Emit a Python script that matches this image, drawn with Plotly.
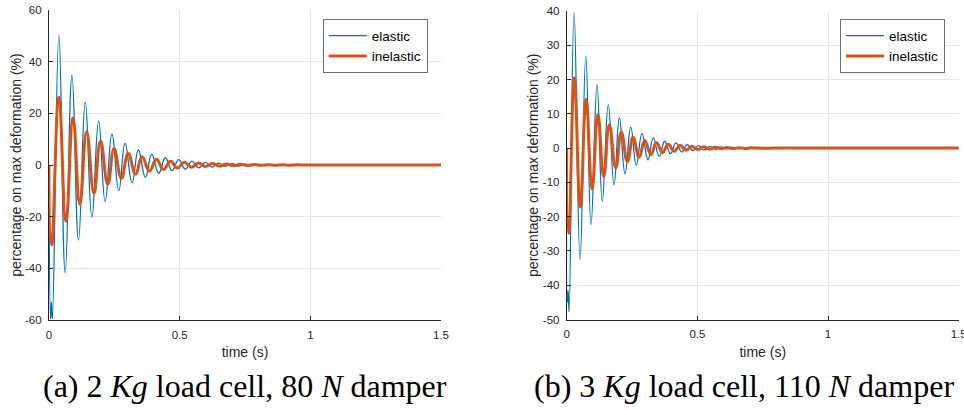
import plotly.graph_objects as go

# ---------------- data (successive extrema) ----------------
# (a) 2 Kg load cell, 80 N damper
t_a_elastic = [0, 0.006, 0.009, 0.013, 0.038, 0.062, 0.088, 0.113, 0.139, 0.164, 0.190, 0.215,
               0.241, 0.267, 0.291, 0.318, 0.342, 0.369, 0.393, 0.420, 0.445, 0.471, 0.496,
               0.522, 0.547, 0.573, 0.598, 0.624, 0.649, 0.675, 0.700, 0.726, 0.751, 0.777,
               0.802, 0.828, 0.853, 0.879, 0.904, 0.930, 0.955, 0.980, 1.005, 1.03, 1.1,
               1.2, 1.3, 1.4, 1.5]
v_a_elastic = [0, -59.5, -53, -59.5, 50.3, -41.7, 34.8, -29.0, 24.3, -20.2, 17.0, -14.2,
               12.0, -9.9, 8.4, -6.8, 5.8, -4.8, 4.1, -3.2, 2.8, -2.2, 2.1,
               -1.6, 1.5, -1.1, 1.0, -0.8, 0.7, -0.55, 0.5, -0.4, 0.35, -0.28,
               0.24, -0.2, 0.17, -0.14, 0.12, -0.1, 0.08, -0.06, 0.05, 0, 0,
               0, 0, 0, 0]
t_a_inelastic = [0, 0.005, 0.007, 0.011, 0.038, 0.065, 0.092, 0.118, 0.144, 0.172, 0.197, 0.225,
                 0.249, 0.277, 0.303, 0.331, 0.356, 0.384, 0.411, 0.438, 0.465, 0.491, 0.518,
                 0.545, 0.572, 0.598, 0.625, 0.652, 0.679, 0.705, 0.732, 0.759, 0.786, 0.812,
                 0.839, 0.866, 0.893, 0.920, 0.950, 0.98, 1.05, 1.15, 1.25, 1.35, 1.5]
v_a_inelastic = [0, -28, -27.5, -31, 26.2, -21.7, 18.3, -15.2, 12.9, -11.0, 9.3, -7.4,
                 6.4, -5.2, 4.5, -3.5, 3.2, -2.4, 2.2, -1.7, 1.5, -1.2, 1.1,
                 -0.85, 0.8, -0.6, 0.55, -0.42, 0.38, -0.3, 0.26, -0.2, 0.18, -0.14,
                 0.12, -0.1, 0.08, -0.06, 0.05, 0, 0, 0, 0, 0, 0]

# (b) 3 Kg load cell, 110 N damper
t_b_elastic = [0, 0.002, 0.005, 0.009, 0.028, 0.051, 0.073, 0.093, 0.116, 0.136, 0.159, 0.181,
               0.2015, 0.223, 0.245, 0.266, 0.288, 0.311, 0.331, 0.354, 0.375, 0.397, 0.418,
               0.440, 0.461, 0.483, 0.504, 0.526, 0.548, 0.569, 0.591, 0.612, 0.634, 0.656,
               0.677, 0.699, 0.720, 0.742, 0.763, 0.785, 0.85, 0.95, 1.05, 1.15, 1.25, 1.35, 1.5]
v_b_elastic = [0, -45, -41.5, -47.8, 39.6, -32.5, 26.9, -22.3, 18.6, -15.5, 12.7, -10.7,
               8.9, -7.5, 6.1, -5.0, 4.2, -3.4, 3.0, -2.4, 2.0, -1.6, 1.5,
               -1.1, 1.0, -0.75, 0.7, -0.5, 0.48, -0.35, 0.33, -0.24, 0.22, -0.17,
               0.15, -0.12, 0.1, -0.08, 0.07, 0, 0, 0, 0, 0, 0, 0, 0]
t_b_inelastic = [0, 0.002, 0.004, 0.008, 0.029, 0.052, 0.074, 0.097, 0.119, 0.1415, 0.163, 0.1875,
                 0.209, 0.232, 0.254, 0.277, 0.2985, 0.322, 0.343, 0.367, 0.388, 0.412, 0.433,
                 0.457, 0.478, 0.502, 0.523, 0.547, 0.568, 0.592, 0.613, 0.637, 0.658, 0.682,
                 0.703, 0.727, 0.8, 0.9, 1.0, 1.1, 1.2, 1.3, 1.4, 1.5]
v_b_inelastic = [0, -22, -21.5, -24.8, 20.5, -17.2, 14.2, -11.9, 9.8, -8.3, 6.8, -5.7,
                 4.7, -3.9, 3.2, -2.7, 2.2, -1.9, 1.6, -1.3, 1.1, -0.9, 0.8,
                 -0.62, 0.55, -0.43, 0.38, -0.3, 0.26, -0.2, 0.18, -0.14, 0.12, -0.1,
                 0.08, 0, 0, 0, 0, 0, 0, 0, 0, 0]

series_names = ["elastic", "inelastic"]
x_ticks = [0, 0.5, 1, 1.5]
x_tick_text = ["0", "0.5", "1", "1.5"]
y_ticks_a = [-60, -40, -20, 0, 20, 40, 60]
y_ticks_b = [-50, -40, -30, -20, -10, 0, 10, 20, 30, 40]
x_title = "time (s)"
y_title = "percentage on max deformation (%)"
caption_a = "(a) 2 <i>Kg</i> load cell, 80 <i>N</i> damper"
caption_b = "(b) 3 <i>Kg</i> load cell, 110 <i>N</i> damper"

BLUE = "#0072BD"
ORANGE = "#D95319"
AX = "#262626"
GRID = "#e6e6e6"
SANS = "Liberation Sans, Arial, sans-serif"

fig = go.Figure()
fig.add_trace(go.Scatter(x=t_a_elastic, y=v_a_elastic, mode="lines", name=series_names[0],
                         line=dict(color=BLUE, width=1.3, shape="spline", smoothing=1.3),
                         xaxis="x", yaxis="y", legend="legend"))
fig.add_trace(go.Scatter(x=t_a_inelastic, y=v_a_inelastic, mode="lines", name=series_names[1],
                         line=dict(color=ORANGE, width=3, shape="spline", smoothing=1.3),
                         xaxis="x", yaxis="y", legend="legend"))
fig.add_trace(go.Scatter(x=t_b_elastic, y=v_b_elastic, mode="lines", name=series_names[0],
                         line=dict(color=BLUE, width=1.3, shape="spline", smoothing=1.3),
                         xaxis="x2", yaxis="y2", legend="legend2"))
fig.add_trace(go.Scatter(x=t_b_inelastic, y=v_b_inelastic, mode="lines", name=series_names[1],
                         line=dict(color=ORANGE, width=3, shape="spline", smoothing=1.3),
                         xaxis="x2", yaxis="y2", legend="legend2"))


def xax(domain, anchor):
    return dict(domain=domain, anchor=anchor, range=[0, 1.5], tickvals=x_ticks, ticktext=x_tick_text,
                showgrid=True, gridcolor=GRID, gridwidth=1, zeroline=False, automargin=False,
                showline=True, linecolor=AX, linewidth=1, ticks="inside", ticklen=4,
                tickcolor=AX, tickwidth=1, ticklabelstandoff=4, ticklabeloverflow="allow",
                tickfont=dict(family=SANS, size=11.5, color=AX),
                title=dict(text=x_title, font=dict(family=SANS, size=14, color=AX), standoff=7))


def yax(domain, anchor, rng, ticks):
    return dict(domain=domain, anchor=anchor, range=rng, tickvals=ticks, ticktext=[str(v) for v in ticks],
                showgrid=True, gridcolor=GRID, gridwidth=1, zeroline=False, automargin=False,
                showline=True, linecolor=AX, linewidth=1, ticks="inside", ticklen=4,
                tickcolor=AX, tickwidth=1, ticklabelstandoff=4,
                tickfont=dict(family=SANS, size=11.5, color=AX),
                title=dict(text=y_title, font=dict(family=SANS, size=14, color=AX), standoff=0))


legend_style = dict(xanchor="left", yanchor="top", bgcolor="white", bordercolor="#6e6e6e",
                    borderwidth=1, font=dict(family=SANS, size=13.5, color="#000"),
                    tracegroupgap=0, itemwidth=38)

fig.update_layout(
    width=964, height=410, autosize=False,
    margin=dict(l=0, r=0, t=0, b=0, autoexpand=False),
    paper_bgcolor="white", plot_bgcolor="white",
    xaxis=xax([0.0508, 0.4575], "y"),
    yaxis=yax([0.2195, 0.9756], "x", [-60, 60], y_ticks_a),
    xaxis2=xax([0.5879, 0.9945], "y2"),
    yaxis2=yax([0.2207, 0.9732], "x2", [-50, 40], y_ticks_b),
    legend=dict(x=0.3347, y=0.953, **legend_style),
    legend2=dict(x=0.8714, y=0.953, **legend_style),
    showlegend=True,
    annotations=[
        dict(text=caption_a, x=245 / 964, y=1 - 386 / 410, xref="paper", yref="paper",
             xanchor="center", yanchor="middle", showarrow=False,
             font=dict(family="Liberation Serif, serif", size=32, color="#000")),
        dict(text=caption_b, x=744 / 964, y=1 - 386 / 410, xref="paper", yref="paper",
             xanchor="center", yanchor="middle", showarrow=False,
             font=dict(family="Liberation Serif, serif", size=32, color="#000")),
    ],
)

fig.write_html("out.html")
